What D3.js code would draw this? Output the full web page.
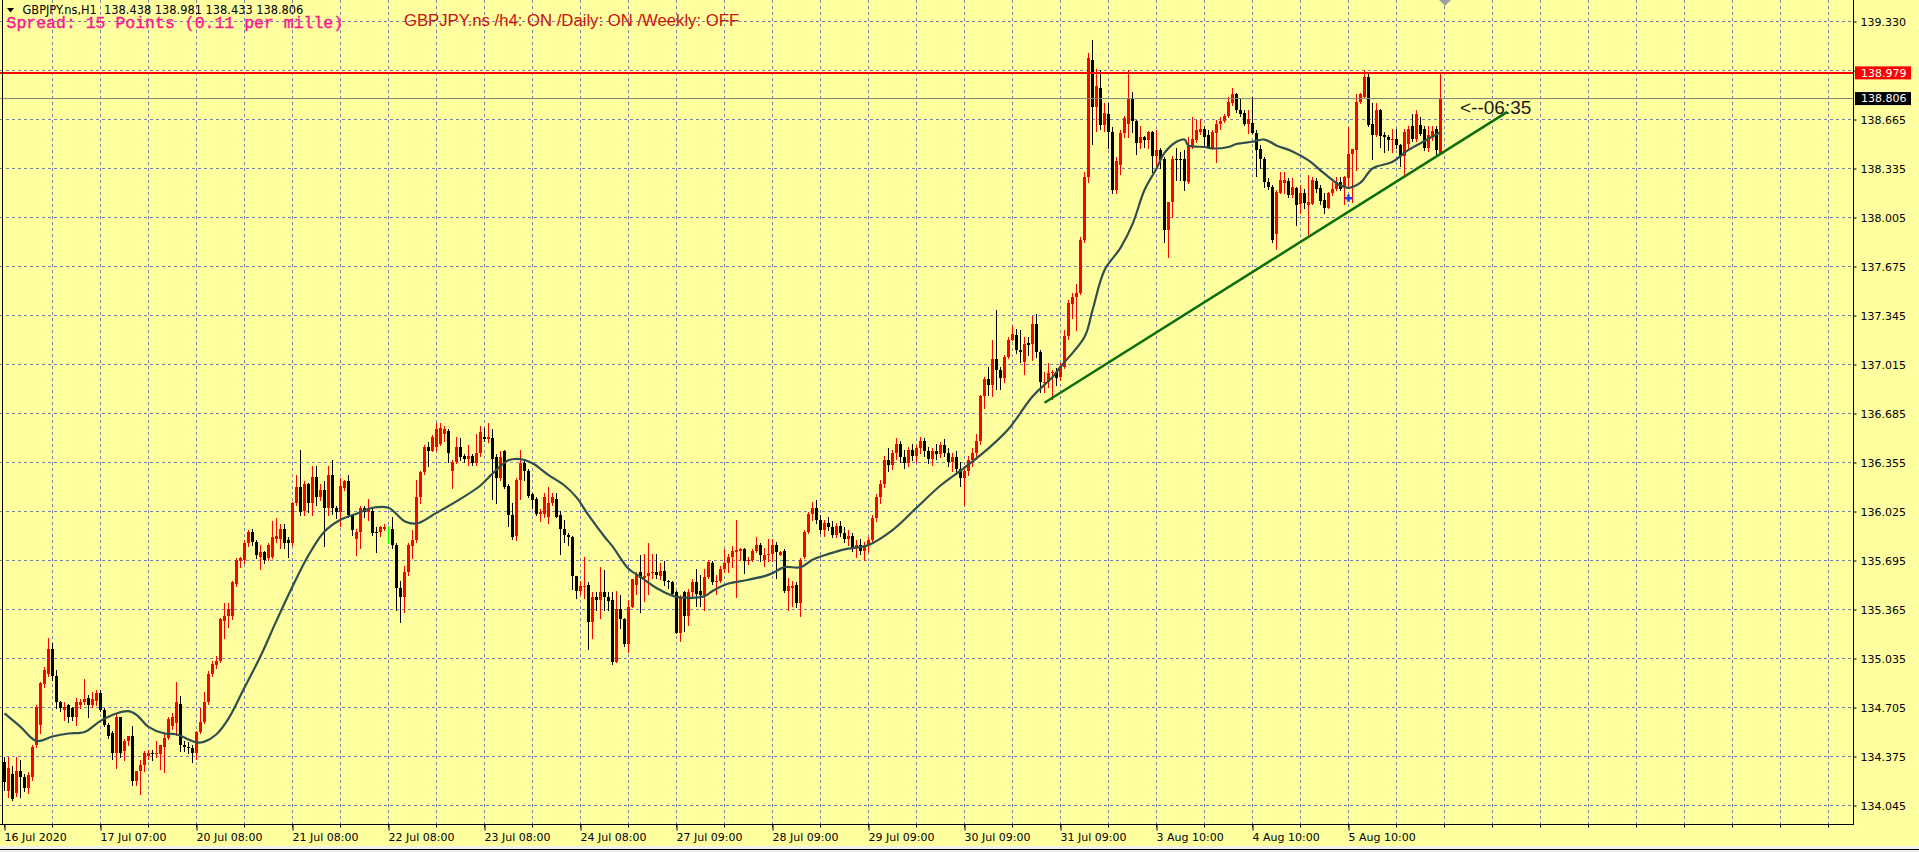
<!DOCTYPE html>
<html><head><meta charset="utf-8">
<script src="https://cdn.jsdelivr.net/npm/d3@7"></script>
<style>
html,body{margin:0;padding:0;background:#fff;overflow:hidden}
svg{display:block}
</style></head><body>
<script>
// ---------------- DATA ----------------
const symbolTitle = "GBPJPY.ns,H1";
const headerOHLC = "138.438 138.981 138.433 138.806";
const spreadText = "Spread: 15 Points (0.11 per mille)";
const trendText = "GBPJPY.ns /h4: ON /Daily: ON /Weekly: OFF";
const countdownText = "<--06:35";

const opens = [
134.34,134.14,134.26,134.13,134.28,134.24,134.16,134.24,134.45,134.59,134.86,134.93,
135.10,134.92,134.74,134.69,134.72,134.70,134.64,134.72,134.74,134.77,134.72,134.75,
134.80,134.69,134.59,134.53,134.40,134.64,134.41,134.48,134.51,134.21,134.28,134.32,
134.38,134.40,134.39,134.39,134.44,134.50,134.58,134.60,134.73,134.45,134.44,134.43,
134.40,134.54,134.61,134.74,134.93,134.99,135.02,135.29,135.32,135.32,135.54,135.69,
135.70,135.81,135.89,135.82,135.72,135.75,135.71,135.72,135.84,135.84,135.91,135.83,
135.81,136.08,136.19,136.03,136.21,136.08,136.26,136.12,136.17,136.05,136.27,136.05,
136.02,136.18,136.23,136.00,135.84,135.89,136.05,136.02,136.03,135.89,135.89,135.91,
135.92,135.91,135.80,135.51,135.45,135.62,135.79,135.83,136.12,136.29,136.46,136.43,
136.46,136.48,136.55,136.57,136.30,136.36,136.46,136.40,136.38,136.40,136.35,136.42,
136.53,136.51,136.52,136.39,136.25,136.43,136.20,136.00,135.86,136.24,136.35,136.30,
136.14,136.11,136.01,136.01,135.99,136.08,136.11,136.00,135.91,135.87,135.85,135.59,
135.49,135.52,135.53,135.28,135.45,135.43,135.48,135.45,135.43,135.01,135.37,135.30,
135.13,135.38,135.53,135.62,135.58,135.59,135.61,135.62,135.59,135.625,135.56,135.55,
135.48,135.21,135.48,135.32,135.48,135.55,135.49,135.46,135.585,135.68,135.55,135.56,
135.64,135.68,135.72,135.75,135.76,135.77,135.69,135.70,135.76,135.80,135.70,135.73,
135.74,135.80,135.73,135.76,135.49,135.51,135.53,135.41,135.72,135.89,136.01,136.05,
135.97,135.90,135.95,135.92,135.87,135.93,135.88,135.84,135.86,135.78,135.80,135.76,
135.79,135.83,135.98,136.12,136.21,136.37,136.34,136.42,136.48,136.39,136.35,136.44,
136.40,136.45,136.50,136.43,136.38,136.43,136.41,136.47,136.42,136.36,136.39,136.31,
136.25,136.30,136.37,136.42,136.50,136.80,136.92,136.876,137.055,136.98,136.927,137.067,
137.183,137.213,137.11,137.033,137.163,137.156,137.287,137.10,136.89,136.90,136.955,136.965,
136.93,137.00,137.206,137.421,137.471,137.498,137.852,138.279,139.065,138.75,138.874,138.627,
138.705,138.582,138.189,138.357,138.571,138.638,138.80,138.656,138.508,138.544,138.53,138.582,
138.418,138.458,138.40,137.92,138.11,138.402,138.40,138.398,138.245,138.485,138.53,138.582,
138.598,138.56,138.47,138.575,138.634,138.656,138.687,138.773,138.836,138.732,138.71,138.638,
138.643,138.575,138.463,138.40,138.245,138.212,137.897,138.171,138.234,138.252,138.155,138.207,
138.095,138.167,138.088,138.099,138.252,138.207,138.122,138.072,138.167,138.20,138.245,138.212,
138.268,138.436,138.458,138.784,138.818,138.952,138.634,138.56,138.732,138.56,138.544,138.526,
138.537,138.49,138.42,138.50,138.62,138.535,138.63,138.60,138.47,138.54,138.60,138.438
];
const highs = [
134.37,134.37,134.31,134.37,134.35,134.26,134.27,134.45,134.72,134.88,134.98,135.17,
135.14,134.96,134.75,134.74,134.73,134.71,134.77,134.76,134.90,134.79,134.81,134.82,
134.82,134.70,134.60,134.55,134.66,134.64,134.49,134.51,134.58,134.28,134.35,134.41,
134.42,134.42,134.48,134.45,134.54,134.64,134.67,134.88,134.78,134.48,134.47,134.45,
134.55,134.70,134.81,134.95,135.02,135.05,135.31,135.41,135.41,135.56,135.71,135.72,
135.83,135.90,135.91,135.83,135.80,135.76,135.81,135.96,135.98,135.94,135.94,135.85,
136.09,136.27,136.44,136.23,136.22,136.33,136.33,136.21,136.23,136.33,136.37,136.06,
136.25,136.24,136.27,136.01,135.91,136.06,136.06,136.11,136.05,135.92,135.93,135.94,
135.925,135.99,135.81,135.56,135.66,135.81,135.90,136.24,136.30,136.47,136.49,136.54,
136.62,136.62,136.60,136.58,136.37,136.53,136.52,136.41,136.47,136.41,136.55,136.60,
136.59,136.62,136.58,136.41,136.43,136.44,136.21,136.08,136.25,136.44,136.37,136.31,
136.15,136.12,136.04,136.15,136.19,136.15,136.15,136.03,135.97,135.88,135.86,135.59,
135.56,135.72,135.55,135.48,135.48,135.65,135.63,135.48,135.48,135.49,135.46,135.31,
135.43,135.57,135.62,135.73,135.74,135.81,135.74,135.74,135.675,135.69,135.565,135.555,
135.49,135.46,135.49,135.50,135.57,135.64,135.60,135.64,135.70,135.69,135.60,135.66,
135.77,135.74,135.79,135.97,135.78,135.78,135.72,135.77,135.85,135.81,135.78,135.84,
135.84,135.82,135.76,135.77,135.58,135.56,135.55,135.71,135.90,136.02,136.09,136.10,
136.00,135.97,135.99,135.96,135.95,135.96,135.92,135.90,135.88,135.83,135.84,135.82,
135.85,136.00,136.14,136.24,136.40,136.45,136.44,136.52,136.50,136.44,136.46,136.48,
136.47,136.53,136.52,136.46,136.45,136.48,136.49,136.51,136.45,136.42,136.43,136.36,
136.33,136.40,136.45,136.55,136.81,136.93,137.00,137.18,137.385,137.00,137.08,137.20,
137.273,137.257,137.246,137.20,137.20,137.34,137.354,137.11,136.965,137.026,136.98,136.99,
137.026,137.246,137.448,137.498,137.56,137.875,138.312,139.11,139.199,139.008,138.997,138.773,
138.773,138.616,138.414,138.593,138.69,139.00,138.85,138.66,138.62,138.553,138.589,138.59,
138.593,138.47,138.413,138.11,138.418,138.47,138.447,138.46,138.548,138.683,138.66,138.665,
138.62,138.593,138.593,138.66,138.683,138.70,138.818,138.874,138.845,138.806,138.728,138.728,
138.818,138.593,138.49,138.41,138.268,138.223,138.189,138.313,138.313,138.268,138.268,138.212,
138.223,138.20,138.29,138.279,138.268,138.223,138.167,138.178,138.245,138.279,138.28,138.283,
138.616,138.466,138.84,138.845,138.997,138.975,138.773,138.773,138.739,138.582,138.56,138.604,
138.598,138.50,138.60,138.62,138.70,138.73,138.68,138.62,138.62,138.62,138.62,138.981
];
const lows = [
134.15,134.10,134.08,134.11,134.10,134.14,134.13,134.22,134.44,134.53,134.84,134.92,
134.89,134.70,134.68,134.62,134.61,134.62,134.59,134.70,134.73,134.64,134.71,134.72,
134.68,134.58,134.50,134.36,134.30,134.37,134.35,134.45,134.18,134.18,134.12,134.28,
134.36,134.35,134.37,134.29,134.27,134.49,134.56,134.52,134.41,134.41,134.40,134.34,
134.36,134.53,134.60,134.73,134.92,134.97,135.01,135.17,135.25,135.30,135.52,135.65,
135.68,135.79,135.80,135.71,135.64,135.68,135.70,135.71,135.82,135.78,135.78,135.72,
135.80,136.07,136.00,136.00,136.02,136.00,136.07,136.10,135.79,136.00,136.01,135.98,
135.93,136.17,135.99,135.87,135.73,135.78,135.99,135.97,135.87,135.75,135.86,135.90,
135.81,135.78,135.36,135.28,135.35,135.60,135.71,135.82,136.08,136.28,136.33,136.43,
136.44,136.47,136.50,136.36,136.18,136.35,136.37,136.36,136.34,136.34,136.34,136.40,
136.50,136.49,136.11,136.08,136.24,136.18,135.93,135.84,135.83,136.11,136.24,136.12,
136.05,136.00,135.96,135.99,135.95,136.07,135.99,135.74,135.82,135.80,135.50,135.44,
135.47,135.44,135.10,135.17,135.36,135.31,135.36,135.36,135.00,135.01,135.24,135.12,
135.08,135.38,135.47,135.35,135.42,135.47,135.58,135.58,135.57,135.53,135.51,135.46,
135.21,135.15,135.22,135.26,135.45,135.39,135.39,135.36,135.58,135.54,135.47,135.55,
135.62,135.62,135.65,135.45,135.70,135.61,135.67,135.69,135.75,135.69,135.66,135.69,
135.69,135.58,135.73,135.48,135.36,135.39,135.38,135.32,135.71,135.88,135.97,135.95,
135.88,135.86,135.90,135.85,135.85,135.86,135.82,135.80,135.76,135.72,135.74,135.70,
135.75,135.81,135.96,136.08,136.19,136.30,136.31,136.38,136.36,136.32,136.33,136.37,
136.36,136.42,136.40,136.35,136.34,136.38,136.39,136.40,136.33,136.30,136.28,136.20,
136.07,136.27,136.33,136.38,136.48,136.72,136.81,136.80,136.85,136.85,136.90,137.06,
137.18,137.093,137.033,136.954,137.078,137.044,137.067,136.83,136.83,136.865,136.78,136.88,
136.91,136.99,137.19,137.325,137.25,137.49,137.841,138.245,138.503,138.59,138.604,138.59,
138.476,138.17,138.171,138.297,138.548,138.548,138.58,138.436,138.47,138.481,138.47,138.313,
138.357,138.335,137.841,137.74,138.01,138.256,138.256,138.19,138.238,138.47,138.515,138.57,
138.492,138.47,138.463,138.38,138.604,138.65,138.683,138.762,138.715,138.69,138.627,138.571,
138.571,138.283,138.335,138.212,138.20,137.841,137.796,138.167,138.167,138.144,138.144,137.953,
138.032,138.07,137.886,138.095,138.18,138.099,138.032,138.066,138.155,138.189,138.19,138.099,
138.212,138.11,138.324,138.773,138.818,138.62,138.402,138.553,138.48,138.447,138.458,138.447,
138.476,138.35,138.30,138.46,138.52,138.52,138.56,138.46,138.45,138.53,138.43,138.433
];
const closes = [
134.20,134.30,134.09,134.28,134.24,134.16,134.25,134.44,134.71,134.87,134.96,135.10,
134.92,134.74,134.70,134.71,134.64,134.64,134.74,134.74,134.76,134.72,134.76,134.80,
134.69,134.59,134.51,134.40,134.64,134.40,134.48,134.51,134.21,134.28,134.32,134.40,
134.40,134.39,134.40,134.45,134.50,134.63,134.64,134.74,134.45,134.44,134.43,134.40,
134.54,134.61,134.74,134.93,135.00,135.02,135.30,135.32,135.37,135.55,135.70,135.71,
135.81,135.89,135.82,135.73,135.75,135.70,135.80,135.85,135.86,135.91,135.81,135.81,
136.08,136.19,136.02,136.21,136.08,136.26,136.12,136.17,136.05,136.27,136.05,136.02,
136.20,136.23,136.00,135.90,135.89,136.05,136.02,136.04,135.88,135.88,135.92,135.92,
135.92,135.80,135.51,135.45,135.62,135.80,135.83,136.12,136.29,136.46,136.43,136.53,
136.58,136.59,136.58,136.42,136.36,136.46,136.39,136.38,136.40,136.35,136.42,136.56,
136.51,136.53,136.38,136.25,136.39,136.19,136.00,135.85,136.24,136.35,136.30,136.13,
136.10,136.01,136.02,136.12,136.08,136.12,135.99,135.91,135.87,135.85,135.59,135.49,
135.52,135.525,135.28,135.45,135.43,135.48,135.45,135.42,135.01,135.37,135.30,135.13,
135.38,135.57,135.60,135.58,135.59,135.61,135.62,135.60,135.625,135.56,135.55,135.47,
135.21,135.45,135.32,135.48,135.55,135.47,135.46,135.585,135.686,135.55,135.56,135.64,
135.68,135.72,135.76,135.765,135.77,135.69,135.70,135.76,135.80,135.73,135.73,135.74,
135.80,135.75,135.755,135.49,135.52,135.52,135.41,135.70,135.89,136.01,136.05,135.97,
135.90,135.95,135.92,135.87,135.93,135.88,135.84,135.86,135.78,135.80,135.76,135.79,
135.83,135.98,136.12,136.21,136.37,136.34,136.42,136.48,136.39,136.35,136.44,136.40,
136.45,136.50,136.43,136.38,136.43,136.41,136.47,136.42,136.36,136.39,136.31,136.25,
136.30,136.37,136.42,136.50,136.80,136.92,136.876,137.055,136.98,136.927,137.067,137.183,
137.219,137.11,137.10,137.156,137.145,137.287,137.10,136.90,136.90,136.96,136.965,136.927,
136.999,137.206,137.426,137.471,137.498,137.852,138.279,139.076,138.75,138.89,138.627,138.71,
138.582,138.19,138.387,138.571,138.672,138.80,138.656,138.508,138.544,138.53,138.582,138.418,
138.458,138.391,137.92,138.11,138.402,138.396,138.39,138.25,138.492,138.537,138.593,138.598,
138.544,138.481,138.582,138.638,138.656,138.687,138.784,138.836,138.728,138.705,138.638,138.665,
138.575,138.458,138.402,138.245,138.212,137.852,138.178,138.256,138.256,138.155,138.212,138.088,
138.167,138.10,138.11,138.256,138.20,138.117,138.072,138.167,138.20,138.245,138.20,138.279,
138.436,138.463,138.784,138.84,138.952,138.627,138.56,138.732,138.553,138.544,138.526,138.537,
138.492,138.42,138.58,138.60,138.535,138.70,138.57,138.47,138.56,138.59,138.46,138.806
];

// moving average (at these bars)
const maBars = [0,4,8,12,16,20,24,28,31,33,36,40,43,46,48,50,53,56,60,64,68,72,76,80,84,88,92,96,100,103,108,114,119,122,126,129,132,136,140,143,146,150,152,156,159,163,168,175,177,181,185,190,192,195,199,202,205,210,216,222,228,234,240,246,251,257,262,264,270,272,275,279,282,285,288,290,293,295,296,300,302,306,308,312,315,318,322,326,330,334,336,339,342,347,351,355,359];
const maValues = [134.665,134.575,134.48,134.51,134.53,134.54,134.615,134.665,134.68,134.655,134.575,134.53,134.525,134.49,134.47,134.475,134.525,134.63,134.84,135.05,135.29,135.52,135.73,135.89,135.97,136.01,136.05,136.05,135.96,135.944,136.016,136.11,136.2,136.28,136.37,136.378,136.35,136.27,136.2,136.12,136.0,135.855,135.79,135.64,135.585,135.51,135.45,135.455,135.49,135.54,135.56,135.59,135.61,135.65,135.65,135.70,135.73,135.77,135.80,135.90,136.05,136.20,136.32,136.45,136.58,136.80,136.93,137.0,137.20,137.38,137.65,137.80,137.96,138.19,138.335,138.44,138.515,138.53,138.49,138.48,138.47,138.48,138.50,138.515,138.53,138.49,138.45,138.39,138.30,138.22,138.205,138.24,138.335,138.38,138.46,138.52,138.58];

const priceTicks = [134.045,134.375,134.705,135.035,135.365,135.695,136.025,136.355,136.685,137.015,137.345,137.675,138.005,138.335,138.665,138.995,139.325];
const priceTickLabels = ["134.045","134.375","134.705","135.035","135.365","135.695","136.025","136.355","136.685","137.015","137.345","137.675","138.005","138.335","138.665","138.995","139.330"];
const timeTickBars = [0,24,48,72,96,120,144,168,192,216,240,264,288,312,336];
const timeTickLabels = ["16 Jul 2020","17 Jul 07:00","20 Jul 08:00","21 Jul 08:00","22 Jul 08:00","23 Jul 08:00","24 Jul 08:00","27 Jul 09:00","28 Jul 09:00","29 Jul 09:00","30 Jul 09:00","31 Jul 09:00","3 Aug 10:00","4 Aug 10:00","5 Aug 10:00"];

const redLevel = 138.979;
const bidLevel = 138.806;
const trendBars = [260, 375.7];
const trendPrices = [136.757, 138.716];
const markerBar = 336, markerPrice = 138.135;

// ---------------- DRAW ----------------
const W = 1919, H = 852;
const BG = "#FFFF9F";
const plotRight = 1853.5, plotBottom = 824.5;
const x = d3.scaleLinear().domain([0, 359]).range([4.5, 1440.5]);
const y = d3.scaleLinear().domain([134.045, 139.325]).range([805.5, 21.5]);
const py = v => Math.round(y(v));

const svg = d3.select("body").append("svg").attr("width", W).attr("height", H);
svg.append("rect").attr("width", W).attr("height", H).attr("fill", BG);

// grid
const grid = svg.append("g").attr("stroke", "#7482AC").attr("stroke-width", 1).attr("stroke-dasharray", "3,3");
const gridBars = d3.range(12, 457, 12);
grid.selectAll("line.v").data(gridBars).join("line").attr("class", "v")
  .attr("x1", d => x(d)).attr("x2", d => x(d)).attr("y1", 0).attr("y2", plotBottom);
grid.selectAll("line.h").data(priceTicks).join("line").attr("class", "h")
  .attr("x1", 0).attr("x2", plotRight).attr("y1", d => y(d)).attr("y2", d => y(d));

// candles
const idx = d3.range(closes.length);
const colorOf = i => closes[i] > opens[i] ? "#FF0000" : (closes[i] < opens[i] ? "#000000" : "#00FF00");
const cg = svg.append("g").attr("shape-rendering", "crispEdges");
cg.selectAll("line").data(idx).join("line")
  .attr("x1", i => x(i)).attr("x2", i => x(i))
  .attr("y1", i => py(Math.max(highs[i], opens[i], closes[i])) - 0.5)
  .attr("y2", i => py(Math.min(lows[i], opens[i], closes[i])) + 0.5)
  .attr("stroke", colorOf).attr("stroke-width", 1);
cg.selectAll("rect").data(idx.filter(i => opens[i] !== closes[i])).join("rect")
  .attr("x", i => x(i) - 1.5).attr("width", 3)
  .attr("y", i => py(Math.max(opens[i], closes[i])))
  .attr("height", i => Math.max(1, py(Math.min(opens[i], closes[i])) - py(Math.max(opens[i], closes[i]))))
  .attr("fill", colorOf);

// moving average
const maPts = maBars.map((b, k) => [b, maValues[k]]);
svg.append("path").datum(maPts)
  .attr("d", d3.line().x(d => x(d[0])).y(d => y(d[1])).curve(d3.curveCatmullRom.alpha(0.5)))
  .attr("fill", "none").attr("stroke", "#2F4F4F").attr("stroke-width", 2.2);

// horizontal lines
svg.append("line").attr("x1", 0).attr("x2", plotRight).attr("y1", y(bidLevel)).attr("y2", y(bidLevel))
  .attr("stroke", "#808080").attr("stroke-width", 1);
svg.append("line").attr("x1", 0).attr("x2", plotRight).attr("y1", y(redLevel)).attr("y2", y(redLevel))
  .attr("stroke", "#FF0000").attr("stroke-width", 2);

// trendline
svg.append("line")
  .attr("x1", x(trendBars[0])).attr("y1", y(trendPrices[0]))
  .attr("x2", x(trendBars[1])).attr("y2", y(trendPrices[1]))
  .attr("stroke", "#0B6E0B").attr("stroke-width", 2.5);

// blue arrow object
svg.append("path").attr("d", d3.symbol(d3.symbolCross, 30)())
  .attr("transform", `translate(${x(markerBar)},${y(markerPrice)})`).attr("fill", "#1F3FFF");

// countdown text
svg.append("text").attr("x", x(359) + 19.5).attr("y", y(bidLevel) + 15)
  .attr("font-family", "Liberation Sans, Arial, sans-serif").attr("font-size", 19)
  .attr("fill", "#1a1a1a").text(countdownText);

// frame lines
svg.append("line").attr("x1", plotRight).attr("x2", plotRight).attr("y1", 0).attr("y2", plotBottom + 0.5)
  .attr("stroke", "#000").attr("stroke-width", 1);
svg.append("line").attr("x1", 0).attr("x2", plotRight).attr("y1", plotBottom).attr("y2", plotBottom)
  .attr("stroke", "#000").attr("stroke-width", 1);
svg.append("line").attr("x1", 2.5).attr("x2", 2.5).attr("y1", 0).attr("y2", plotBottom)
  .attr("stroke", "#000").attr("stroke-width", 1);

// right axis
const yAxis = d3.axisRight(y).tickValues(priceTicks).tickFormat((d, k) => priceTickLabels[k]).tickSize(3);
const ya = svg.append("g").attr("transform", `translate(${plotRight},0)`).call(yAxis);
ya.select(".domain").remove();
ya.selectAll("text").attr("x", 7).attr("font-family", "DejaVu Sans, sans-serif").attr("font-size", 11).attr("fill", "#000");
ya.selectAll("line").attr("stroke", "#000");

// price label boxes
function priceBox(level, fill, txt) {
  const g = svg.append("g").attr("transform", `translate(1855,${y(level)})`);
  g.append("rect").attr("x", 0).attr("y", -6.5).attr("width", 56).attr("height", 13).attr("fill", fill);
  g.append("text").attr("x", 6).attr("dy", "0.35em").attr("font-family", "DejaVu Sans, sans-serif")
    .attr("font-size", 11).attr("fill", "#FFFFFF").text(txt);
}
priceBox(redLevel, "#FF0000", d3.format(".3f")(redLevel));
priceBox(bidLevel, "#000000", d3.format(".3f")(bidLevel));

// bottom axis
const minorTicks = d3.range(0, 457, 12);
svg.append("g").selectAll("line").data(minorTicks).join("line")
  .attr("x1", d => x(d)).attr("x2", d => x(d)).attr("y1", plotBottom).attr("y2", plotBottom + 3)
  .attr("stroke", "#000");
const xAxis = d3.axisBottom(x).tickValues(timeTickBars).tickFormat((d, k) => timeTickLabels[k]).tickSize(6);
const xa = svg.append("g").attr("transform", `translate(0,${plotBottom})`).call(xAxis);
xa.select(".domain").remove();
xa.selectAll("line").attr("stroke", "#000");
xa.selectAll("text").attr("text-anchor", "start").attr("x", -0.5).attr("y", 16).attr("dy", 0)
  .attr("font-family", "DejaVu Sans, sans-serif").attr("font-size", 11).attr("fill", "#000");

// window bottom edge
svg.append("rect").attr("x", 0).attr("y", 846).attr("width", W).attr("height", 6).attr("fill", "#F0F0F0");
svg.append("line").attr("x1", 0).attr("x2", W).attr("y1", 849.5).attr("y2", 849.5).attr("stroke", "#000");

// header
svg.append("path").attr("d", "M7,8 L14,8 L10.5,12.5 Z").attr("fill", "#000");
svg.append("text").attr("x", 22.5).attr("y", 14).attr("font-family", "DejaVu Sans, sans-serif")
  .attr("font-size", 11.4).attr("fill", "#000").attr("xml:space", "preserve")
  .text(symbolTitle + "  " + headerOHLC);
svg.append("text").attr("x", 6.5).attr("y", 27.5).attr("font-family", "Liberation Mono, monospace")
  .attr("font-size", 16.5).attr("fill", "#FF1493").attr("stroke", "#FF1493").attr("stroke-width", 0.35)
  .text(spreadText);
svg.append("text").attr("x", 404).attr("y", 26).attr("font-family", "Liberation Sans, Arial, sans-serif")
  .attr("font-size", 16.7).attr("fill", "#CC1111").text(trendText);

// chart shift marker
svg.append("path").attr("d", "M1439,0 L1451,0 L1445,6 Z").attr("fill", "#A0A0A0");
</script>
</body></html>
